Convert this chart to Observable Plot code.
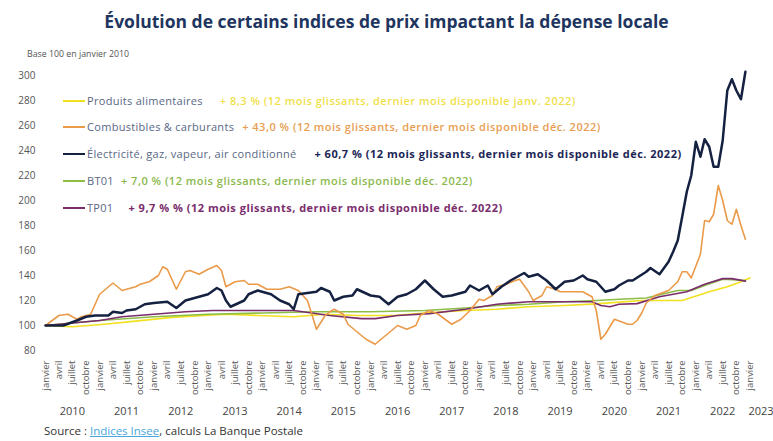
<!DOCTYPE html>
<html><head><meta charset="utf-8">
<script src="https://cdn.jsdelivr.net/npm/d3@7"></script>
<script src="https://cdn.jsdelivr.net/npm/@observablehq/plot@0.6"></script>
<style>
body{margin:0;background:#fff;font-family:"Open Sans",sans-serif;}
#wrap{position:relative;width:773px;height:441px;overflow:hidden;background:#fff;}
#chart{position:absolute;left:0;top:0;}
#title{position:absolute;top:9px;left:0;width:773px;text-align:center;font-weight:700;font-size:17.5px;color:#1e3560;white-space:nowrap;}
#sub{position:absolute;top:48px;left:27px;font-size:8.8px;color:#555;white-space:nowrap;}
#source{position:absolute;top:423px;left:44px;font-size:11.5px;color:#333;white-space:nowrap;}
#source a{color:#48a6dc;text-decoration:underline;}
.leg{position:absolute;left:63px;display:flex;align-items:center;white-space:nowrap;font-size:11px;}
.leg .sw{width:22px;height:2px;margin-right:2px;}
.leg .nm{color:#5a6784;letter-spacing:0.3px;}
.leg .an{letter-spacing:0.5px;}
</style></head>
<body>
<div id="wrap">
  <div id="chart"></div>
  <div id="title">Évolution de certains indices de prix impactant la dépense locale</div>
  <div id="sub">Base 100 en janvier 2010</div>
  <div id="legend"></div>
  <div id="source">Source : <a>Indices Insee</a>, calculs La Banque Postale</div>
</div>
<script>
// ---- data (month offset from January 2010, index value base 100) ----
const foodMonths  = [0,6,13,20,28,35,40,47,55,62,69,77,84,93,100,107,115,122,127,132,141,147,151,154,156];
const foodValues  = [100,99,101,103.5,106.5,108,109,108,107,109,108,108,110,112,113,115,116,117.3,118.7,120,120,127,131,135,138];

const fuelMonths  = [0,3,5,7,8,10,12,15,17,18,20,21,23,25,26,27,29,31,32,34,36,38,39,40,42,44,45,47,49,52,54,56,58,59,60,62,63,64,66,67,69,71,73,75,77,78,80,82,83,85,87,90,92,94,96,97,99,100,102,104,105,107,108,110,111,113,114,116,119,121,122,123,124,126,129,130,131,132,133,135,138,140,141,142,143,145,146,147,148,149,150,151,152,153,154,155];
const fuelValues  = [100,108,109,105,107,109,125,134,128,129,131,133,135,140,147,145,129,143,144,141,145,148,144,131,135,136,133,133,129,129,131,128,120,109,97,108,111,113,109,101,95,89,85,91,97,100,97,100,108,112,109,101,105,112,121,120,124,131,133,136,137,127,120,124,131,129,127,127,127,123,112,89,93,105,101,101,104,110,118,124,128,135,143,143,138,157,184,183,189,212,200,184,181,193,180,169];

const elecMonths  = [0,4,7,9,11,14,15,17,18,20,22,24,27,29,31,34,36,38,39,40,41,44,45,47,50,52,54,55,56,58,60,61,63,64,66,68,69,72,74,76,78,80,82,84,86,88,90,93,94,96,98,99,101,103,105,106,107,109,111,113,115,117,119,120,122,124,126,127,129,130,133,134,136,138,139,140,141,142,143,144,145,146,147,148,149,150,151,152,153,154,155];
const elecValues  = [100,100,104,107,108,108,111,110,112,113,117,118,119,114,120,123,125,130,128,120,115,120,125,128,125,120,117,113,125,126,127,130,127,120,123,124,129,124,123,117,123,125,129,136,129,123,124,127,132,128,132,125,131,136,140,142,139,141,136,129,135,136,140,137,135,127,129,132,136,136,143,146,141,151,159,168,187,207,220,247,235,249,243,227,227,248,288,297,288,281,303];

const bt01Months  = [0,6,12,24,36,48,60,72,84,93,100,107,115,122,127,133,140,143,146,150,155];
const bt01Values  = [100,102,104,107,109,110,111,111,112,114,116,117,119,120,121,122,128,128,132,137,136];

const tp01Months  = [0,6,12,17,24,31,37,46,55,63,70,73,78,85,93,100,107,115,121,123,125,127,131,136,142,146,150,152,155];
const tp01Values  = [100,102,104,107,109,111,112,112,112,108,105.5,105.5,108,109.5,113,117,119,119,119,116,115,117,117.5,123,127,133,137.5,137.5,135.5];

const seriesNames  = ["Produits alimentaires","Combustibles & carburants","Électricité, gaz, vapeur, air conditionné","BT01","TP01"];
const seriesNotes  = ["+ 8,3 % (12 mois glissants, dernier mois disponible janv. 2022)",
                      "+ 43,0 % (12 mois glissants, dernier mois disponible déc. 2022)",
                      "+ 60,7 % (12 mois glissants, dernier mois disponible déc. 2022)",
                      "+ 7,0 % (12 mois glissants, dernier mois disponible déc. 2022)",
                      "+ 9,7 % % (12 mois glissants, dernier mois disponible déc. 2022)"];
const seriesColors = ["#f1e11e","#ea9a48","#152140","#8cbd46","#7a2d6d"];
const noteColors   = ["#efe04a","#e89d52","#1b2656","#8ab84c","#7a2d6d"];
const monthLabels  = ["janvier","avril","juillet","octobre"];
const yTicks       = [80,100,120,140,160,180,200,220,240,260,280,300];
const years        = [2010,2011,2012,2013,2014,2015,2016,2017,2018,2019,2020,2021,2022];

// ---- build tables ----
const dt = m => new Date(Date.UTC(2010, m, 1));
const mk = (ms, vs, k) => ms.map((m, i) => ({date: dt(m), value: vs[i], k}));
const food = mk(foodMonths, foodValues, 0);
const fuel = mk(fuelMonths, fuelValues, 1);
const elec = mk(elecMonths, elecValues, 2);
const bt01 = mk(bt01Months, bt01Values, 3);
const tp01 = mk(tp01Months, tp01Values, 4);

const quarterTicks = d3.range(0, 157, 3).map(dt);
const yearTicks = years.map(y => new Date(Date.UTC(y, 6, 1)));

const chart = Plot.plot({
  width: 773, height: 441,
  marginTop: 75, marginBottom: 91, marginLeft: 45, marginRight: 23.5,
  style: {fontFamily: "Open Sans, sans-serif", background: "transparent"},
  x: {type: "utc", domain: [dt(0), dt(156)]},
  y: {domain: [80, 300]},
  marks: [
    Plot.axisY(yTicks, {tickSize: 0, tickPadding: 10, fontSize: 10, color: "#555", label: null}),
    Plot.axisX(quarterTicks, {tickSize: 0, tickPadding: 10, tickRotate: -90, fontSize: 9.5, color: "#555", label: null,
      tickFormat: d => monthLabels[d.getUTCMonth() / 3]}),
    Plot.axisX(yearTicks, {tickSize: 0, tickPadding: 57, fontSize: 11, color: "#444", label: null,
      tickFormat: d => String(d.getUTCFullYear())}),
    Plot.axisX([dt(156)], {tickSize: 0, tickPadding: 57, fontSize: 11, color: "#444", label: null, dx: 11,
      tickFormat: () => "2023"}),
    Plot.lineY(food, {x: "date", y: "value", stroke: seriesColors[0], strokeWidth: 1.7}),
    Plot.lineY(bt01, {x: "date", y: "value", stroke: seriesColors[3], strokeWidth: 1.7}),
    Plot.lineY(tp01, {x: "date", y: "value", stroke: seriesColors[4], strokeWidth: 1.7}),
    Plot.lineY(fuel, {x: "date", y: "value", stroke: seriesColors[1], strokeWidth: 1.6}),
    Plot.lineY(elec, {x: "date", y: "value", stroke: seriesColors[2], strokeWidth: 2.5})
  ]
});
document.getElementById("chart").appendChild(chart);

// ---- legend ----
const legTops = [93, 119, 146, 173, 200];
const legGaps = [17, 8, 18, 7, 15];
const lg = document.getElementById("legend");
seriesNames.forEach((n, i) => {
  const row = document.createElement("div");
  row.className = "leg";
  row.style.top = legTops[i] + "px";
  row.innerHTML = `<span class="sw" style="background:${seriesColors[i]}"></span><span class="nm">${n}</span>` +
    `<span class="an" style="color:${noteColors[i]};margin-left:${legGaps[i]}px;font-weight:${(i===2||i===4)?700:600}">${seriesNotes[i]}</span>`;
  lg.appendChild(row);
});
</script>
</body></html>
